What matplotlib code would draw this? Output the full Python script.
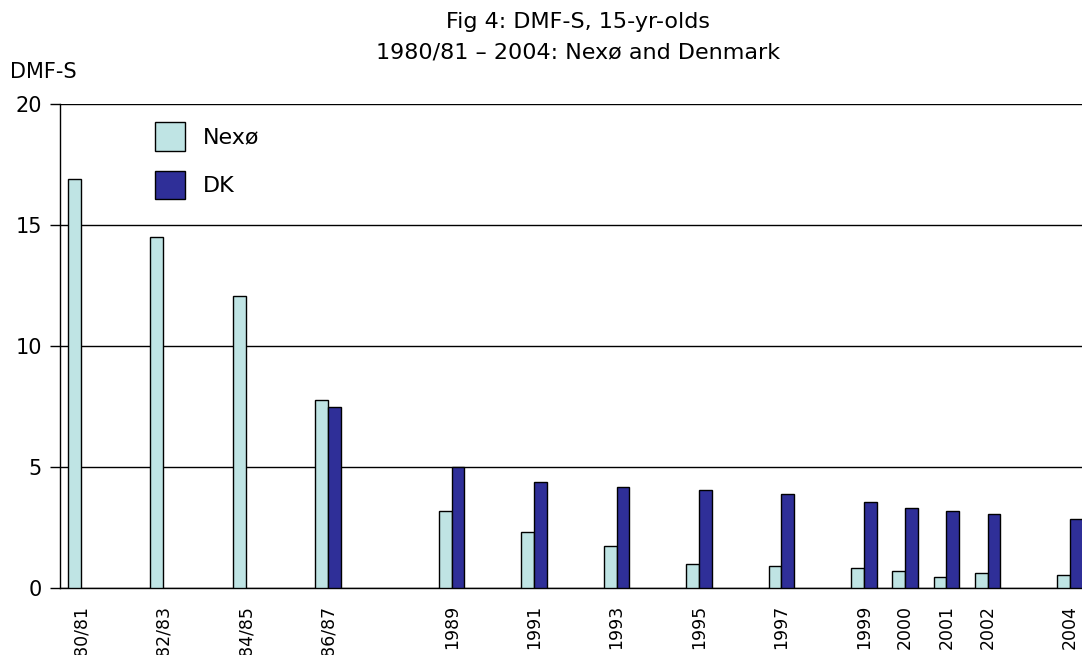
import numpy as np
import matplotlib
matplotlib.use("Agg")
import matplotlib.pyplot as plt

# survey years (1980/81 etc. placed at the first year) and tick labels
years = [1980, 1982, 1984, 1986, 1989, 1991, 1993, 1995, 1997, 1999, 2000, 2001, 2002, 2004]
labels = ["1980/81", "1982/83", "1984/85", "1986/87", "1989", "1991", "1993", "1995",
          "1997", "1999", "2000", "2001", "2002", "2004"]
nexo = [16.9, 14.5, 12.05, 7.75, 3.2, 2.3, 1.75, 1.0, 0.92, 0.84, 0.7, 0.47, 0.63, 0.54]
dk = [np.nan, np.nan, np.nan, 7.5, 5.0, 4.4, 4.17, 4.05, 3.88, 3.57, 3.29, 3.19, 3.06, 2.84]

plt.rcParams['font.family'] = ['DejaVu Sans']

fig = plt.figure(figsize=(10.82, 6.55), dpi=100)
ax = fig.add_axes([60 / 1082, 1 - 588 / 655, 1 - 60 / 1082, (588 - 104) / 655])

x = np.array(years, dtype=float)
w = 0.31
ax.bar(x - w / 2, nexo, width=w, color="#bfe4e4", edgecolor="black", linewidth=1, label="Nexø", zorder=3)
ax.bar(x + w / 2, dk, width=w, color="#2f2f98", edgecolor="black", linewidth=1, label="DK", zorder=3)

ax.set_xlim(1979.5, 2004.29)
ax.set_ylim(0, 20)
ax.set_yticks([0, 5, 10, 15, 20])
ax.yaxis.grid(True, color="black", linewidth=1)
ax.set_axisbelow(True)
ax.tick_params(axis="y", labelsize=15, length=7, width=1, pad=6)
ax.set_xticks(x)
ax.set_xticklabels(labels, rotation=90, fontsize=12.5)
ax.tick_params(axis="x", length=0, pad=12)

for s in ["top", "right"]:
    ax.spines[s].set_visible(False)
ax.spines["left"].set_linewidth(1)
ax.spines["bottom"].set_linewidth(1)

ax.legend(loc="upper left", bbox_to_anchor=(0.0737, 1.004), frameon=False, fontsize=16,
          handlelength=1.35, handleheight=1.6, labelspacing=0.9, handletextpad=0.8)

fig.text(578 / 1082, 1 - 22 / 655, "Fig 4: DMF-S, 15-yr-olds", ha="center", va="center", fontsize=16)
fig.text(578 / 1082, 1 - 53 / 655, "1980/81 \u2013 2004: Nexø and Denmark", ha="center", va="center", fontsize=16)
fig.text(10 / 1082, 1 - 72 / 655, "DMF-S", ha="left", va="center", fontsize=15)

fig.savefig("out.png", dpi=100)
